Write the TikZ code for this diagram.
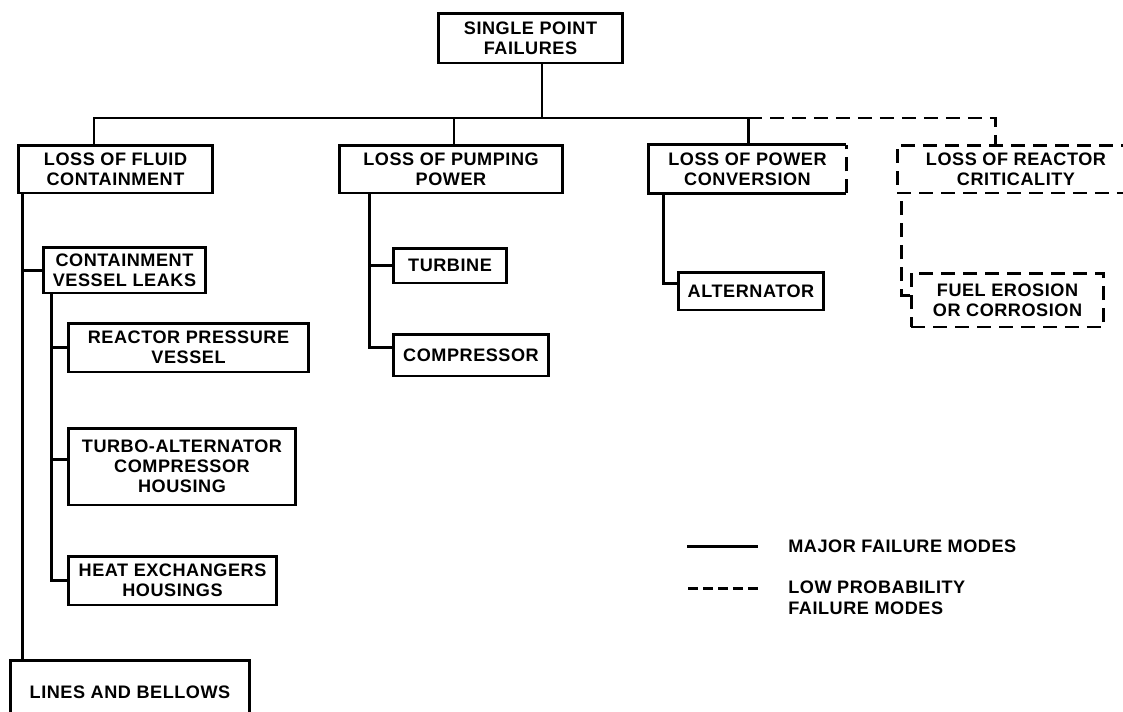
\documentclass[tikz,border=0pt]{standalone}
\usepackage{fontspec}
\setmainfont{Liberation Sans}[LetterSpace=3]
\usepackage{tikz}

\begin{document}
\begin{tikzpicture}[x=0.02cm,y=-0.02cm,
        box/.style={inner sep=0pt,align=center,font=\bfseries\fontsize{10.3}{11.4}\selectfont},
        lowdash/.style={dash pattern=on 0.28cm off 0.16cm},
        solidbox/.style={box,draw,line width=1.7pt},
        dashbox/.style={box,draw,line width=1.7pt,lowdash},
        line/.style={line width=1.7pt}]
        \useasboundingbox (0,0) rectangle (1123,711);
        \clip (0,0) rectangle (1123,711);

        \node[solidbox,minimum width=3.70cm,minimum height=1.00cm] (top) at (530.5,38) {SINGLE POINT\\FAILURES};

        \node[solidbox,minimum width=3.90cm,minimum height=0.96cm] (fluid) at (115.5,169) {LOSS OF FLUID\\CONTAINMENT};
        \node[solidbox,minimum width=4.48cm,minimum height=0.96cm] (pump) at (451,169) {LOSS OF PUMPING\\POWER};
        \node[box,minimum width=3.94cm,minimum height=0.96cm] (power) at (747.5,169) {LOSS OF POWER\\CONVERSION};
        \node[dashbox,minimum width=4.76cm,minimum height=0.96cm] (reactor) at (1016,169) {LOSS OF REACTOR\\CRITICALITY};

        \draw[line](power.north east)--(power.north west)--(power.south west)--(power.south east);
        \draw[line,lowdash](power.south east)--(power.north east);

        \node[solidbox,minimum width=3.26cm,minimum height=0.92cm] (contain) at (124.5,270) {CONTAINMENT\\VESSEL LEAKS};
        \node[solidbox,minimum width=4.82cm,minimum height=0.98cm] (rpv) at (188.5,347.5) {REACTOR PRESSURE\\VESSEL};
        \node[solidbox,minimum width=4.56cm,minimum height=1.54cm] (turbo) at (182,466.5) {TURBO-ALTERNATOR\\COMPRESSOR\\HOUSING};
        \node[solidbox,minimum width=4.18cm,minimum height=0.98cm] (hx) at (172.5,580.5) {HEAT EXCHANGERS\\HOUSINGS};
        \node[solidbox,minimum width=4.80cm,minimum height=1.28cm] (lines) at (130,692) {LINES AND BELLOWS};

        \node[solidbox,minimum width=2.28cm,minimum height=0.70cm] (turbine) at (450,265.5) {TURBINE};
        \node[solidbox,minimum width=3.12cm,minimum height=0.84cm] (comp) at (471,355) {COMPRESSOR};
        \node[solidbox,minimum width=2.92cm,minimum height=0.76cm] (alt) at (751,291) {ALTERNATOR};
        \node[dashbox,minimum width=3.86cm,minimum height=1.08cm] (fuel) at (1007.5,300) {FUEL EROSION\\OR CORROSION};

        % main bus under the top box
        \coordinate (bus) at (542,118);
        \coordinate (dF) at (94,118);
        \coordinate (dP) at (454,118);
        \coordinate (dC) at (748,118);
        \coordinate (dR) at (995,118);
        \draw[line](top.south -| bus)--(bus);
        \draw[line](fluid.north -| dF)--(dF)--(dC)--(power.north -| dC);
        \draw[line](dP)--(pump.north -| dP);
        \draw[line,lowdash](dC)--(dR)--(reactor.north -| dR);

        % branches
        \coordinate (trunkF) at ([xshift=0.12cm]fluid.south west);
        \coordinate (trunkC) at ([xshift=0.20cm]contain.south west);
        \coordinate (trunkP) at ([xshift=0.64cm]pump.south west);
        \coordinate (trunkA) at ([xshift=0.30cm]power.south west);
        \coordinate (trunkR) at ([xshift=0.12cm]reactor.south west);

        \draw[line](trunkF)--(trunkF |- lines.north);
        \draw[line](contain.west)-|(trunkF);
        \draw[line](rpv.west)-|(trunkC);
        \draw[line]([yshift=0.15cm]turbo.west)-|(trunkC);
        \draw[line](hx.west)-|(trunkC);

        \draw[line](turbine.west)-|(trunkP);
        \draw[line]([yshift=0.16cm]comp.west)-|(trunkP);

        \draw[line]([yshift=0.16cm]alt.west)-|(trunkA);
        \draw[line,lowdash]([yshift=0.10cm]fuel.west)-|(trunkR);

        % key
        \node[box,anchor=west] (major) at (788,546) {MAJOR FAILURE MODES};
        \node[box,anchor=north west,align=left] (low) at (788,581) {LOW PROBABILITY\\FAILURE MODES};
        \coordinate (k1) at (687,546);
        \coordinate (k2) at (688,588);
        \draw[line](k1)--++(71,0);
        \draw[line,dash pattern=on 0.2cm off 0.1cm](k2)--++(72,0);
\end{tikzpicture}
\end{document}
